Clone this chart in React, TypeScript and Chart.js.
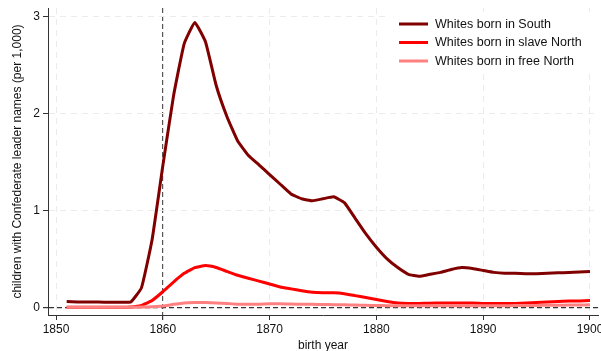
import React, { useEffect, useRef } from "react";
import { Chart, registerables } from "chart.js";

Chart.register(...registerables);

const years: number[] = [];
for (let y = 1851; y <= 1900; y++) years.push(y);

const southValues = [
  0.06, 0.055, 0.055, 0.053, 0.052, 0.052, 0.055, 0.2, 0.7, 1.46,
  2.18, 2.72, 2.94, 2.74, 2.29, 1.97, 1.72, 1.57, 1.47, 1.37,
  1.27, 1.17, 1.12, 1.10, 1.12, 1.14, 1.08, 0.92, 0.76, 0.62,
  0.50, 0.41, 0.34, 0.32, 0.34, 0.36, 0.39, 0.41, 0.40, 0.38,
  0.36, 0.35, 0.35, 0.345, 0.345, 0.35, 0.355, 0.36, 0.365, 0.37,
];

const slaveNorthValues = [
  0.0, 0.0, 0.0, 0.0, 0.0, 0.0, 0.003, 0.02, 0.07, 0.16,
  0.26, 0.35, 0.41, 0.43, 0.41, 0.37, 0.33, 0.30, 0.27, 0.24,
  0.21, 0.19, 0.17, 0.155, 0.15, 0.15, 0.14, 0.12, 0.10, 0.08,
  0.06, 0.045, 0.04, 0.04, 0.042, 0.045, 0.045, 0.045, 0.045, 0.04,
  0.04, 0.04, 0.04, 0.045, 0.05, 0.055, 0.06, 0.065, 0.065, 0.07,
];

const freeNorthValues = [
  0.0, 0.0, 0.0, 0.0, 0.0, 0.0, 0.0, 0.002, 0.005, 0.012,
  0.03, 0.045, 0.05, 0.05, 0.045, 0.038, 0.032, 0.03, 0.032, 0.035,
  0.035, 0.033, 0.03, 0.03, 0.028, 0.027, 0.025, 0.022, 0.02, 0.018,
  0.016, 0.015, 0.015, 0.015, 0.015, 0.015, 0.015, 0.015, 0.015, 0.015,
  0.015, 0.016, 0.017, 0.018, 0.019, 0.02, 0.021, 0.022, 0.024, 0.025,
];

const seriesLabels = [
  "Whites born in South",
  "Whites born in slave North",
  "Whites born in free North",
];
const seriesColors = ["#800000", "#ff0000", "#ff8080"];
const xTicks = [1850, 1860, 1870, 1880, 1890, 1900];
const yTicks = [0, 1, 2, 3];

const FONT = "'Liberation Sans', Arial, sans-serif";

const legendPlugin = {
  id: "customLegend",
  afterDatasetsDraw(chart: any) {
    const ctx = chart.ctx;
    ctx.save();
    ctx.fillStyle = "#ffffff";
    ctx.fillRect(388, 12, 206, 60);
    ctx.font = `12.5px ${FONT}`;
    ctx.textBaseline = "middle";
    chart.data.datasets.forEach((ds: any, i: number) => {
      const y = 24 + i * 18.5;
      ctx.strokeStyle = ds.borderColor;
      ctx.lineWidth = 3;
      ctx.beginPath();
      ctx.moveTo(399, y);
      ctx.lineTo(428, y);
      ctx.stroke();
      ctx.fillStyle = "#111111";
      ctx.fillText(ds.label, 435, y + 0.5);
    });
    ctx.restore();
  },
};

export default function App() {
  const ref = useRef<HTMLCanvasElement | null>(null);
  useEffect(() => {
    document.body.style.margin = "0";
    const canvas = ref.current!;
    const values = [southValues, slaveNorthValues, freeNorthValues];
    const chart = new Chart(canvas, {
      type: "line",
      data: {
        datasets: values.map((v, i) => ({
          label: seriesLabels[i],
          data: years.map((yr, j) => ({ x: yr, y: v[j] })),
          borderColor: seriesColors[i],
          backgroundColor: seriesColors[i],
          borderWidth: 3,
          pointRadius: 0,
          tension: 0.12,
          order: 3 - i,
        })),
      },
      options: {
        animation: false,
        responsive: false,
        layout: { padding: { top: 8, right: 3, left: 0, bottom: 0 } },
        plugins: { legend: { display: false }, tooltip: { enabled: false } },
        scales: {
          x: {
            type: "linear",
            min: 1849.25,
            max: 1900.75,
            afterBuildTicks: (s: any) => {
              s.ticks = xTicks.map((v) => ({ value: v }));
            },
            afterFit: (s: any) => {
              s.height = 36;
              s.paddingRight = 0;
              s.paddingLeft = 0;
            },
            ticks: {
              font: { family: FONT, size: 12 },
              color: "#111",
              padding: 2,
              maxRotation: 0,
              callback: (v: any) => String(v),
            },
            grid: {
              color: (c: any) => (c.tick && c.tick.value === 1860 ? "#555555" : "#ebebeb"),
              lineWidth: (c: any) => (c.tick && c.tick.value === 1860 ? 1.2 : 1),
              tickColor: "#333",
              tickLength: 5,
            },
            border: {
              display: true,
              color: "#333",
              width: 1,
              dash: (c: any) => (c.tick && c.tick.value === 1860 ? [5, 3] : [6, 5]),
            },
            title: {
              display: true,
              text: "birth year",
              font: { family: FONT, size: 12 },
              color: "#111",
              padding: { top: 0, bottom: -2 },
            },
          },
          y: {
            type: "linear",
            min: -0.08,
            max: 3.09,
            afterBuildTicks: (s: any) => {
              s.ticks = yTicks.map((v) => ({ value: v }));
            },
            afterFit: (s: any) => {
              s.width = 48;
              s.paddingTop = 0;
              s.paddingBottom = 0;
            },
            ticks: {
              font: { family: FONT, size: 12 },
              color: "#111",
              padding: 3,
              callback: (v: any) => String(v),
            },
            grid: {
              color: (c: any) => (c.tick && c.tick.value === 0 ? "#333333" : "#ebebeb"),
              lineWidth: (c: any) => (c.tick && c.tick.value === 0 ? 1.2 : 1),
              tickColor: "#333",
              tickLength: 5,
            },
            border: {
              display: true,
              color: "#333",
              width: 1,
              dash: (c: any) => (c.tick && c.tick.value === 0 ? [5, 3] : [6, 5]),
            },
            title: {
              display: true,
              text: "children with Confederate leader names (per 1,000)",
              font: { family: FONT, size: 12 },
              color: "#111",
              padding: { top: 10, bottom: 0 },
            },
          },
        },
      },
      plugins: [legendPlugin],
    } as any);
    return () => chart.destroy();
  }, []);
  return (
    <div style={{ width: 601, height: 351 }}>
      <canvas ref={ref} width={601} height={351} />
    </div>
  );
}
